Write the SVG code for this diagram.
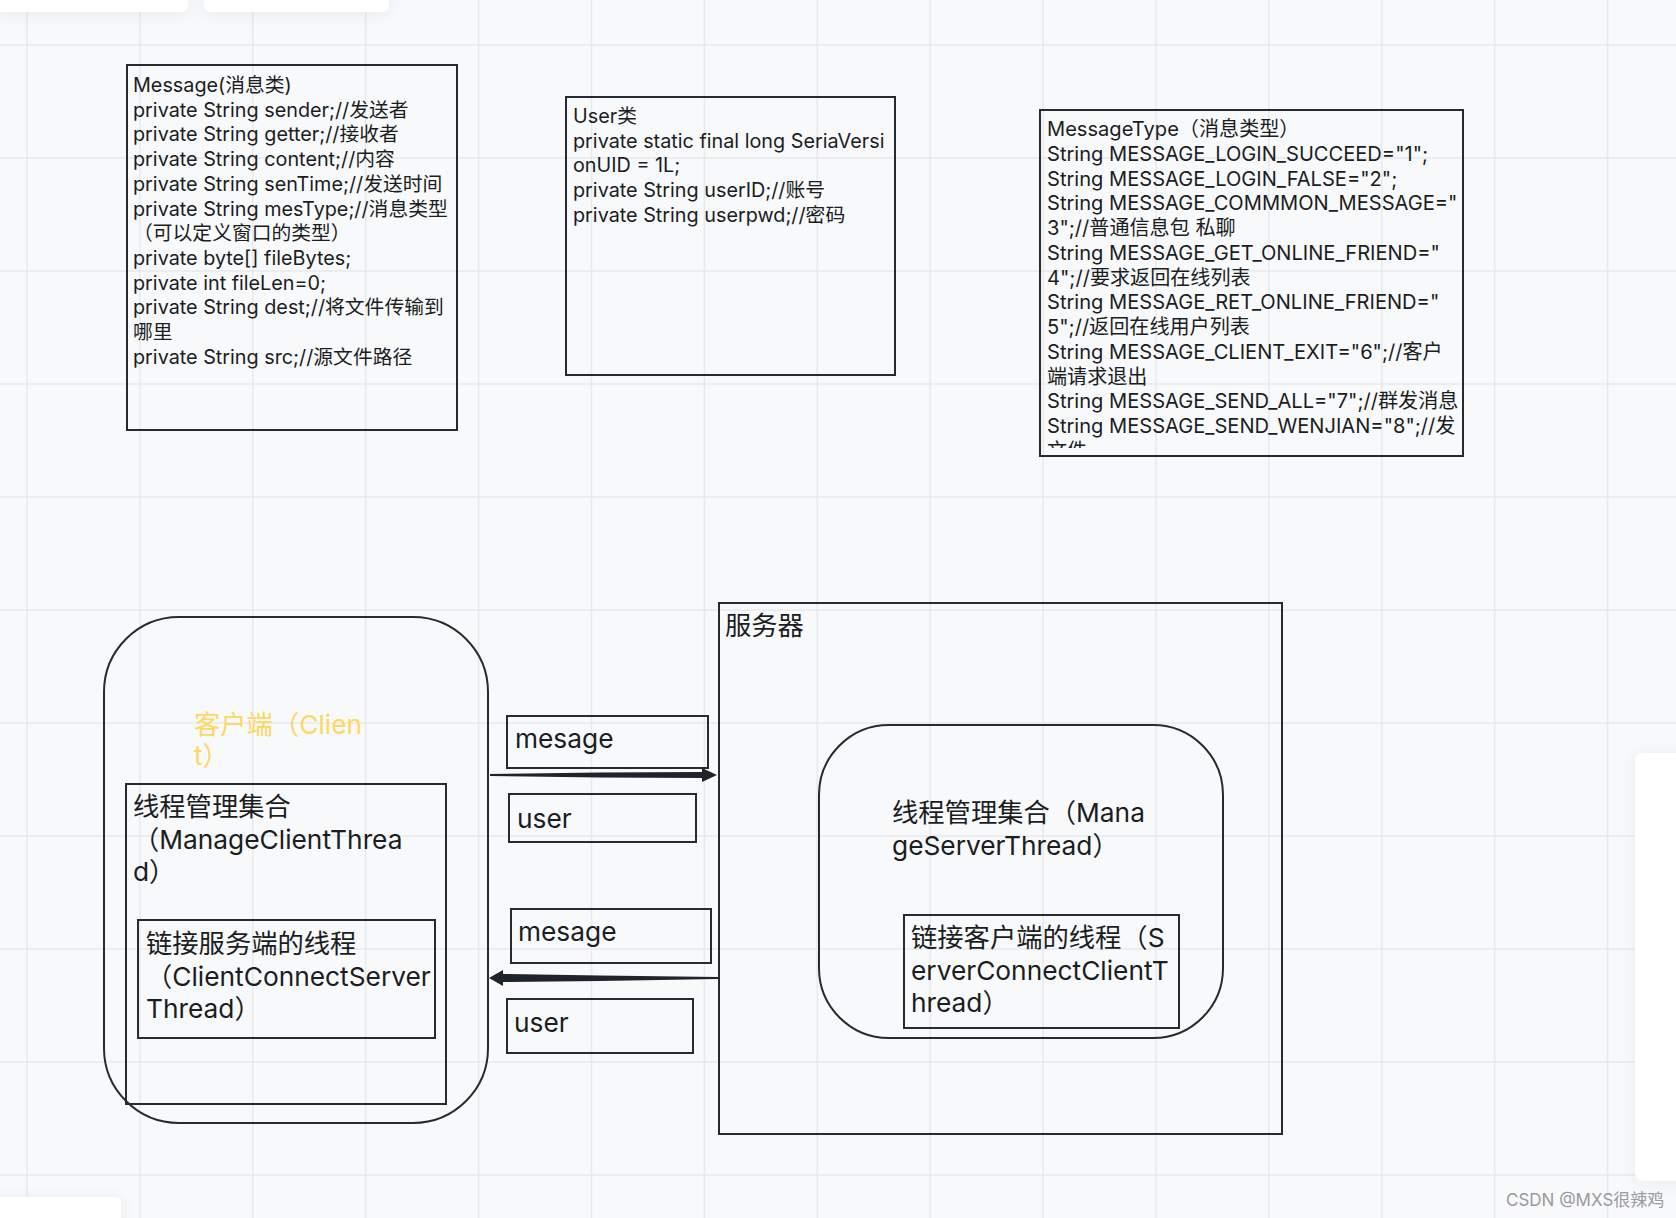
<svg xmlns="http://www.w3.org/2000/svg" width="1676" height="1218" viewBox="0 0 1676 1218">
<defs>
<style>
.bg{fill:#f8f9fb}
.grid line{stroke:#e7e9ec;stroke-width:1.5}
.box{fill:none;stroke:#262a31;stroke-width:2}
.t19{font-family:Inter,"Noto Sans CJK SC",sans-serif;font-size:19.8px;fill:#1a1d22}
.t20{font-family:Inter,"Noto Sans CJK SC",sans-serif;font-size:20.1px;fill:#1a1d22}
.t26{font-family:Inter,"Noto Sans CJK SC",sans-serif;font-size:26.3px;fill:#1a1d22}
.yellow{fill:#ffd75e}
.wm{font-family:Inter,"Noto Sans CJK SC",sans-serif;font-size:17px;fill:#9a9a9a}
.arrow{fill:#1f232b}
.panel{fill:#ffffff}
</style>
<filter id="sh" x="-20%" y="-100%" width="140%" height="400%">
<feDropShadow dx="0" dy="2" stdDeviation="8" flood-color="#000" flood-opacity="0.06"/>
</filter>
<clipPath id="mtclip"><rect x="1040" y="110" width="423" height="338"/></clipPath>
</defs>
<rect class="bg" x="0" y="0" width="1676" height="1218"/>
<g class="grid">
<line x1="27" y1="0" x2="27" y2="1218"/>
<line x1="139.9" y1="0" x2="139.9" y2="1218"/>
<line x1="252.8" y1="0" x2="252.8" y2="1218"/>
<line x1="365.7" y1="0" x2="365.7" y2="1218"/>
<line x1="478.6" y1="0" x2="478.6" y2="1218"/>
<line x1="591.5" y1="0" x2="591.5" y2="1218"/>
<line x1="704.4" y1="0" x2="704.4" y2="1218"/>
<line x1="817.3" y1="0" x2="817.3" y2="1218"/>
<line x1="930.2" y1="0" x2="930.2" y2="1218"/>
<line x1="1043.1" y1="0" x2="1043.1" y2="1218"/>
<line x1="1156" y1="0" x2="1156" y2="1218"/>
<line x1="1268.9" y1="0" x2="1268.9" y2="1218"/>
<line x1="1381.8" y1="0" x2="1381.8" y2="1218"/>
<line x1="1494.7" y1="0" x2="1494.7" y2="1218"/>
<line x1="1607.6" y1="0" x2="1607.6" y2="1218"/>
<line x1="0" y1="45" x2="1676" y2="45"/>
<line x1="0" y1="158" x2="1676" y2="158"/>
<line x1="0" y1="271" x2="1676" y2="271"/>
<line x1="0" y1="384" x2="1676" y2="384"/>
<line x1="0" y1="497" x2="1676" y2="497"/>
<line x1="0" y1="610" x2="1676" y2="610"/>
<line x1="0" y1="723" x2="1676" y2="723"/>
<line x1="0" y1="836" x2="1676" y2="836"/>
<line x1="0" y1="949" x2="1676" y2="949"/>
<line x1="0" y1="1062" x2="1676" y2="1062"/>
<line x1="0" y1="1175" x2="1676" y2="1175"/>
</g>
<g id="ui-panels" filter="url(#sh)">
<rect class="panel" x="-10" y="-10" width="198" height="22" rx="6"/>
<rect class="panel" x="204" y="-10" width="185" height="22" rx="6"/>
<rect class="panel" x="1635" y="753" width="60" height="428" rx="8"/>
<rect class="panel" x="-10" y="1197" width="131" height="40" rx="6"/>
</g>

<g id="message-class">
<rect class="box" x="127" y="65" width="330" height="365"/>
<text class="t19" x="133" y="92">
<tspan x="133" dy="0">Message(消息类)</tspan>
<tspan x="133" dy="24.7">private String sender;//发送者</tspan>
<tspan x="133" dy="24.7">private String getter;//接收者</tspan>
<tspan x="133" dy="24.7">private String content;//内容</tspan>
<tspan x="133" dy="24.7">private String senTime;//发送时间</tspan>
<tspan x="133" dy="24.7">private String mesType;//消息类型</tspan>
<tspan x="133" dy="24.7">（可以定义窗口的类型）</tspan>
<tspan x="133" dy="24.7">private byte[] fileBytes;</tspan>
<tspan x="133" dy="24.7">private int fileLen=0;</tspan>
<tspan x="133" dy="24.7">private String dest;//将文件传输到</tspan>
<tspan x="133" dy="24.7">哪里</tspan>
<tspan x="133" dy="24.7">private String src;//源文件路径</tspan>
</text>
</g>

<g id="user-class">
<rect class="box" x="566" y="97" width="329" height="278"/>
<text class="t19" x="573" y="123">
<tspan x="573" dy="0">User类</tspan>
<tspan x="573" dy="24.7">private static final long SeriaVersi</tspan>
<tspan x="573" dy="24.7">onUID = 1L;</tspan>
<tspan x="573" dy="24.7">private String userID;//账号</tspan>
<tspan x="573" dy="24.7">private String userpwd;//密码</tspan>
</text>
</g>

<g id="messagetype-class">
<rect class="box" x="1040" y="110" width="423" height="346"/>
<text class="t20" x="1047" y="136" clip-path="url(#mtclip)">
<tspan x="1047" dy="0">MessageType（消息类型）</tspan>
<tspan x="1047" dy="24.75">String MESSAGE_LOGIN_SUCCEED="1";</tspan>
<tspan x="1047" dy="24.75">String MESSAGE_LOGIN_FALSE="2";</tspan>
<tspan x="1047" dy="24.75">String MESSAGE_COMMMON_MESSAGE="</tspan>
<tspan x="1047" dy="24.75">3";//普通信息包 私聊</tspan>
<tspan x="1047" dy="24.75">String MESSAGE_GET_ONLINE_FRIEND="</tspan>
<tspan x="1047" dy="24.75">4";//要求返回在线列表</tspan>
<tspan x="1047" dy="24.75">String MESSAGE_RET_ONLINE_FRIEND="</tspan>
<tspan x="1047" dy="24.75">5";//返回在线用户列表</tspan>
<tspan x="1047" dy="24.75">String MESSAGE_CLIENT_EXIT="6";//客户</tspan>
<tspan x="1047" dy="24.75">端请求退出</tspan>
<tspan x="1047" dy="24.75">String MESSAGE_SEND_ALL="7";//群发消息</tspan>
<tspan x="1047" dy="24.75">String MESSAGE_SEND_WENJIAN="8";//发</tspan>
<tspan x="1047" dy="24.75">文件</tspan>
</text>
</g>

<g id="client">
<rect class="box" x="104" y="617" width="384" height="506" rx="75" ry="75"/>
<text class="t26 yellow" x="194" y="734">
<tspan x="194" dy="0">客户端（Clien</tspan>
<tspan x="194" dy="31">t）</tspan>
</text>
</g>

<g id="manage-client-thread">
<rect class="box" x="126" y="784" width="320" height="320"/>
<text class="t26" x="133" y="816">
<tspan x="133" dy="0">线程管理集合</tspan>
<tspan x="133" dy="32.5">（ManageClientThrea</tspan>
<tspan x="133" dy="32.5">d）</tspan>
</text>
</g>

<g id="client-connect-server-thread">
<rect class="box" x="138" y="920" width="297" height="118"/>
<text class="t26" x="146" y="953">
<tspan x="146" dy="0">链接服务端的线程</tspan>
<tspan x="146" dy="32.5">（ClientConnectServer</tspan>
<tspan x="146" dy="32.5">Thread）</tspan>
</text>
</g>

<g id="mesage-1">
<rect class="box" x="507" y="716" width="201" height="52"/>
<text class="t26" x="515" y="748">mesage</text>
</g>
<g id="user-1">
<rect class="box" x="509" y="794" width="187" height="48"/>
<text class="t26" x="517" y="828">user</text>
</g>
<g id="mesage-2">
<rect class="box" x="511" y="909" width="200" height="54"/>
<text class="t26" x="518" y="941">mesage</text>
</g>
<g id="user-2">
<rect class="box" x="507" y="999" width="186" height="54"/>
<text class="t26" x="514" y="1032">user</text>
</g>

<g id="server">
<rect class="box" x="719" y="603" width="563" height="531"/>
<text class="t26" x="725" y="635">服务器</text>
</g>

<g id="manage-server-thread">
<rect class="box" x="819" y="725" width="404" height="313" rx="70" ry="70"/>
<text class="t26" x="892" y="822">
<tspan x="892" dy="0">线程管理集合（Mana</tspan>
<tspan x="892" dy="32.5">geServerThread）</tspan>
</text>
</g>

<g id="server-connect-client-thread">
<rect class="box" x="904" y="915" width="275" height="113"/>
<text class="t26" x="911" y="947">
<tspan x="911" dy="0">链接客户端的线程（S</tspan>
<tspan x="911" dy="32.5">erverConnectClientT</tspan>
<tspan x="911" dy="32.5">hread）</tspan>
</text>
</g>

<g id="connectors">
<polygon class="arrow" points="490,774 600,772.5 702,772 702,768 717,775 702,782 702,778 600,777.5 490,776"/>
<polygon class="arrow" points="718,977 600,975.5 503,974 503,970 489,978 503,986 503,982 600,981 718,979"/>
</g>

<text class="wm" x="1506" y="1206">CSDN @MXS很辣鸡</text>
</svg>
